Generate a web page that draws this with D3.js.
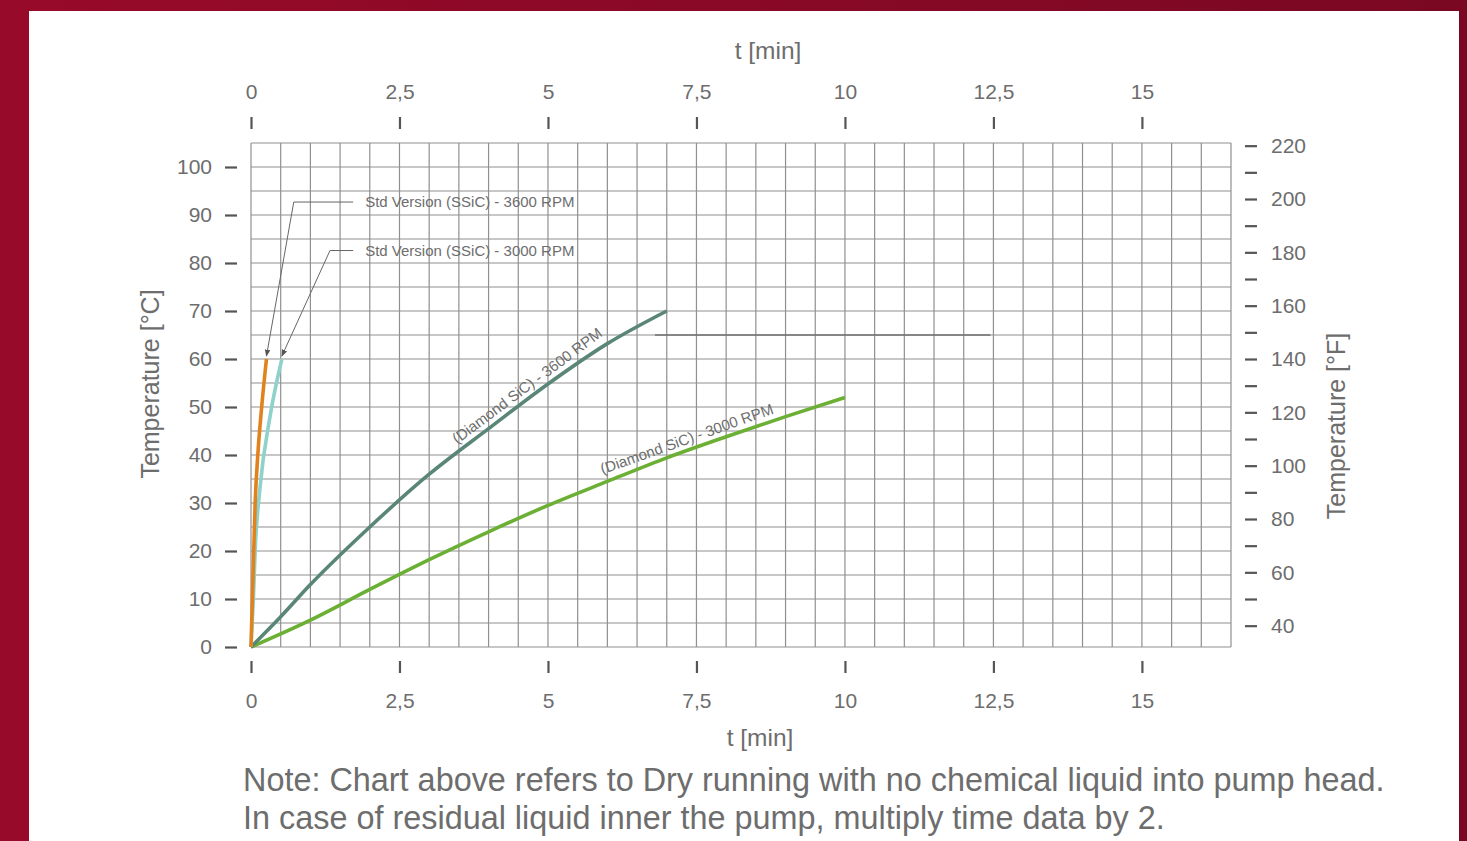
<!DOCTYPE html>
<html>
<head>
<meta charset="utf-8">
<script src="https://cdn.jsdelivr.net/npm/d3@7"></script>
<style>
  body { margin: 0; background: #fff; }
  text { font-family: "Liberation Sans", Arial, Helvetica, sans-serif; fill: #6d6d6d; }
</style>
</head>
<body>
<div id="chart"></div>
<script>
// data: [t (min), temperature (°C)]
var std3600 = [[0, 0], [0.03, 13], [0.07, 30], [0.12, 41], [0.18, 50], [0.26, 60]];
var std3000 = [[0, 0], [0.04, 10], [0.07, 20], [0.15, 33], [0.32, 48], [0.52, 60]];
var dia3600 = [[0, 0], [0.5, 6.3], [1, 13], [2, 25], [3, 36], [4, 45.5], [5, 54.8], [6, 63.2], [7, 70]];
var dia3000 = [[0, 0], [1, 5.6], [2, 12], [3, 18.2], [4, 24], [5, 29.5], [6, 34.5], [7, 39.4], [8, 43.8], [9, 48], [10, 52]];
var darkSegment = [[6.8, 65], [12.45, 65]];

var xTicks = [0, 2.5, 5, 7.5, 10, 12.5, 15];
var cTicks = [0, 10, 20, 30, 40, 50, 60, 70, 80, 90, 100];
var fTicks = [40, 50, 60, 70, 80, 90, 100, 110, 120, 130, 140, 150, 160, 170, 180, 190, 200, 210, 220];

var W = 1467, H = 841;
var plot = { left: 251, right: 1231, top: 143, bottom: 647 };

var svg = d3.select("#chart")
  .append("svg")
  .attr("width", W)
  .attr("height", H);

// background frame
var grad = svg.append("defs").append("linearGradient")
  .attr("id", "bg").attr("x1", "0").attr("x2", "1").attr("y1", "0").attr("y2", "0");
grad.append("stop").attr("offset", "0").attr("stop-color", "#980a29");
grad.append("stop").attr("offset", "1").attr("stop-color", "#7a0823");

svg.append("rect").attr("width", W).attr("height", H).attr("fill", "url(#bg)");
svg.append("rect").attr("x", 29).attr("y", 11).attr("width", 1430).attr("height", 830).attr("fill", "#fff");

svg.select("defs").append("marker")
  .attr("id", "arrow")
  .attr("viewBox", "0 0 10 10")
  .attr("refX", 9).attr("refY", 5)
  .attr("markerWidth", 7).attr("markerHeight", 7)
  .attr("orient", "auto")
  .append("path")
  .attr("d", "M0,1 L10,5 L0,9 Z")
  .attr("fill", "#555");

var x = d3.scaleLinear().domain([0, 16.5]).range([plot.left, plot.right]);
var y = d3.scaleLinear().domain([0, 105]).range([plot.bottom, plot.top]);
var yF = d3.scaleLinear().domain([32, 105 * 9 / 5 + 32]).range([plot.bottom, plot.top]);

var comma = d3.formatLocale({ decimal: ",", thousands: ".", grouping: [3], currency: ["", ""] });
var fmtX = function (d) { return comma.format("~g")(d); };

// grid
var grid = svg.append("g").attr("stroke", "#909090").attr("stroke-width", 1.2);
grid.selectAll(".v")
  .data(d3.range(0, 16.51, 0.5))
  .enter().append("line")
  .attr("x1", function (d) { return x(d); })
  .attr("x2", function (d) { return x(d); })
  .attr("y1", plot.top).attr("y2", plot.bottom);
grid.selectAll(".h")
  .data(d3.range(0, 105.1, 5))
  .enter().append("line")
  .attr("y1", function (d) { return y(d); })
  .attr("y2", function (d) { return y(d); })
  .attr("x1", plot.left).attr("x2", plot.right);

svg.append("line")
  .attr("x1", x(darkSegment[0][0])).attr("x2", x(darkSegment[1][0]))
  .attr("y1", y(darkSegment[0][1])).attr("y2", y(darkSegment[1][1]))
  .attr("stroke", "#707070").attr("stroke-width", 1.6);

// axes
function styleAxis(g) {
  g.select(".domain").remove();
  g.selectAll(".tick line").attr("stroke", "#555").attr("stroke-width", 2.2);
  g.selectAll(".tick text").style("font-size", "21px").attr("fill", "#6d6d6d");
}

svg.append("g")
  .attr("transform", "translate(0,129)")
  .call(d3.axisTop(x).tickValues(xTicks).tickFormat(fmtX).tickSize(12).tickPadding(18))
  .call(styleAxis);

svg.append("g")
  .attr("transform", "translate(0,661)")
  .call(d3.axisBottom(x).tickValues(xTicks).tickFormat(fmtX).tickSize(12).tickPadding(20))
  .call(styleAxis);

svg.append("g")
  .attr("transform", "translate(237,0)")
  .call(d3.axisLeft(y).tickValues(cTicks).tickSize(12).tickPadding(13))
  .call(styleAxis);

svg.append("g")
  .attr("transform", "translate(1245,0)")
  .call(d3.axisRight(yF).tickValues(fTicks).tickSize(12).tickPadding(14)
    .tickFormat(function (d) { return d % 20 == 0 ? d : ""; }))
  .call(styleAxis);

// axis titles
svg.append("text").attr("x", 768).attr("y", 59).attr("text-anchor", "middle")
  .style("font-size", "24.5px").text("t [min]");
svg.append("text").attr("x", 760).attr("y", 746).attr("text-anchor", "middle")
  .style("font-size", "24.5px").text("t [min]");
svg.append("text").attr("transform", "translate(159,384) rotate(-90)").attr("text-anchor", "middle")
  .style("font-size", "25px").text("Temperature [°C]");
svg.append("text").attr("transform", "translate(1345,426) rotate(-90)").attr("text-anchor", "middle")
  .style("font-size", "25px").text("Temperature [°F]");

// curves
var line = d3.line()
  .x(function (d) { return x(d[0]); })
  .y(function (d) { return y(d[1]); })
  .curve(d3.curveMonotoneX);

var series = [
  { data: dia3000, color: "#6bb034" },
  { data: dia3600, color: "#5a8677" },
  { data: std3000, color: "#8fd1cb" },
  { data: std3600, color: "#e0831f" }
];

svg.append("g").selectAll("path")
  .data(series)
  .enter().append("path")
  .attr("d", function (d) { return line(d.data); })
  .attr("fill", "none")
  .attr("stroke", function (d) { return d.color; })
  .attr("stroke-width", 3.6)
  .attr("stroke-linecap", "butt");

// labels along the diamond curves
function valueAt(data, t) {
  for (var i = 1; i < data.length; i++) {
    if (t <= data[i][0]) {
      var a = data[i - 1], b = data[i];
      return a[1] + (b[1] - a[1]) * (t - a[0]) / (b[0] - a[0]);
    }
  }
  return data[data.length - 1][1];
}

function curveLabel(data, t, txt) {
  var c = valueAt(data, t);
  var px = x(t), py = y(c);
  var ang = Math.atan2(y(valueAt(data, t + 0.3)) - y(valueAt(data, t - 0.3)), x(t + 0.3) - x(t - 0.3)) * 180 / Math.PI;
  svg.append("text")
    .attr("transform", "translate(" + px + "," + py + ") rotate(" + ang + ")")
    .attr("text-anchor", "middle")
    .attr("dy", -6)
    .style("font-size", "15px")
    .text(txt);
}
curveLabel(dia3600, 4.76, "(Diamond SiC) - 3600 RPM");
curveLabel(dia3000, 7.4, "(Diamond SiC) - 3000 RPM");

// callouts for the standard versions
var callouts = [
  { text: "Std Version (SSiC) - 3600 RPM", c: 92.7, start: 1.72, elbow: 0.72, tip: std3600[std3600.length - 1] },
  { text: "Std Version (SSiC) - 3000 RPM", c: 82.6, start: 1.72, elbow: 1.33, tip: std3000[std3000.length - 1] }
];

callouts.forEach(function (d) {
  svg.append("path")
    .attr("d", "M" + x(d.start) + "," + y(d.c) + " L" + x(d.elbow) + "," + y(d.c) +
      " L" + x(d.tip[0]) + "," + (y(d.tip[1]) - 3))
    .attr("fill", "none")
    .attr("stroke", "#666")
    .attr("stroke-width", 1)
    .attr("marker-end", "url(#arrow)");
  svg.append("text")
    .attr("x", x(d.start) + 12)
    .attr("y", y(d.c))
    .attr("dy", "0.35em")
    .style("font-size", "15px")
    .text(d.text);
});

// note
svg.append("text").attr("x", 243).attr("y", 791).style("font-size", "32.4px")
  .text("Note: Chart above refers to Dry running with no chemical liquid into pump head.");
svg.append("text").attr("x", 243).attr("y", 829).style("font-size", "32.4px")
  .text("In case of residual liquid inner the pump, multiply time data by 2.");
</script>
</body>
</html>
